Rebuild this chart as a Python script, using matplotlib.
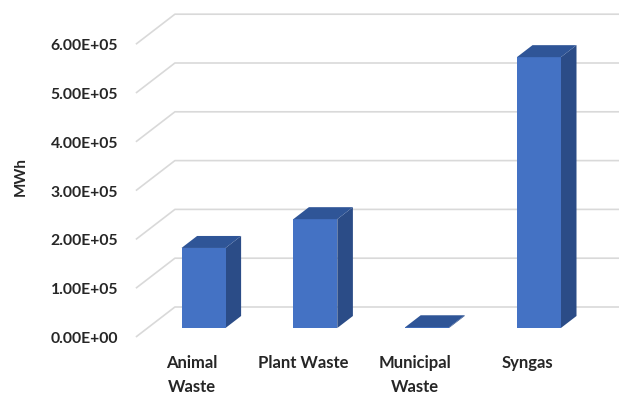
import numpy as np
import matplotlib
matplotlib.use("Agg")
import matplotlib.pyplot as plt
from matplotlib.patches import Polygon

# energy per feedstock
categories = ["Animal\nWaste", "Plant Waste", "Municipal\nWaste", "Syngas"]
mwh = [1.64e5, 2.23e5, 1.5e3, 5.55e5]
ticks = [0, 1e5, 2e5, 3e5, 4e5, 5e5, 6e5]
tick_labels = ["%.2E" % t for t in ticks]

W, H = 619, 394
CAT_PX = 111.8        # pixels per category
VAL_PX = 48.8 / 1e5   # pixels per MWh
X0_PX = 191.8         # first category centre on the floor front edge
Y0_PX = 337           # zero line on the floor front edge (from top)

# oblique depth of the floor, in data units
DX = 39 / CAT_PX
DY = 30 / VAL_PX
BAR_W = 44 / CAT_PX
BAR_FRONT, BAR_BACK = 0.3, 0.7

FRONT = "#4472C4"
TOP = "#2F5597"
SIDE = "#2B4C87"
GRID = "#D9D9D9"
TXT = "#262626"

plt.rcParams["font.family"] = ["Lato", "DejaVu Sans"]

fig = plt.figure(figsize=(W / 100, H / 100), dpi=100)
ax = fig.add_axes([0, 0, 1, 1])
ax.set_xlim(-X0_PX / CAT_PX, (W - X0_PX) / CAT_PX)
ax.set_ylim((Y0_PX - H) / VAL_PX, Y0_PX / VAL_PX)
ax.axis("off")

x_wall = -0.5
x_end = len(categories) - 0.5 + DX

# gridlines: side wall diagonal + back wall
for t, lab in zip(ticks, tick_labels):
    ax.plot([x_wall, x_wall + DX, x_end], [t, t + DY, t + DY],
            color=GRID, lw=1.2, zorder=1, solid_capstyle="butt")
    ax.text(x_wall - 0.16, t - 2 / VAL_PX, lab, ha="right", va="center",
            fontsize=11.3, fontweight="bold", color=TXT)

# 3d columns
for i, v in enumerate(mwh):
    xl = i - BAR_W / 2 + BAR_FRONT * DX
    xr = xl + BAR_W
    yb = BAR_FRONT * DY
    dx = (BAR_BACK - BAR_FRONT) * DX
    dy = (BAR_BACK - BAR_FRONT) * DY
    yt = yb + v
    front = [(xl, yb), (xr, yb), (xr, yt), (xl, yt)]
    side = [(xr, yb), (xr + dx, yb + dy), (xr + dx, yt + dy), (xr, yt)]
    top = [(xl, yt), (xr, yt), (xr + dx, yt + dy), (xl + dx, yt + dy)]
    ax.add_patch(Polygon(side, closed=True, fc=SIDE, ec="none", zorder=3))
    ax.add_patch(Polygon(front, closed=True, fc=FRONT, ec="none", zorder=3))
    ax.add_patch(Polygon(top, closed=True, fc=TOP, ec="none", zorder=4))

for i, c in enumerate(categories):
    ax.text(i, -18 / VAL_PX, c, ha="center", va="top", fontsize=12,
            fontweight="bold", color=TXT, linespacing=1.6)

ax.text(-X0_PX / CAT_PX + 21 / CAT_PX, (Y0_PX - 176) / VAL_PX, "MWh",
        rotation=90, ha="center", va="center", fontsize=11,
        fontweight="bold", color=TXT)

fig.savefig("out.png", dpi=100)
